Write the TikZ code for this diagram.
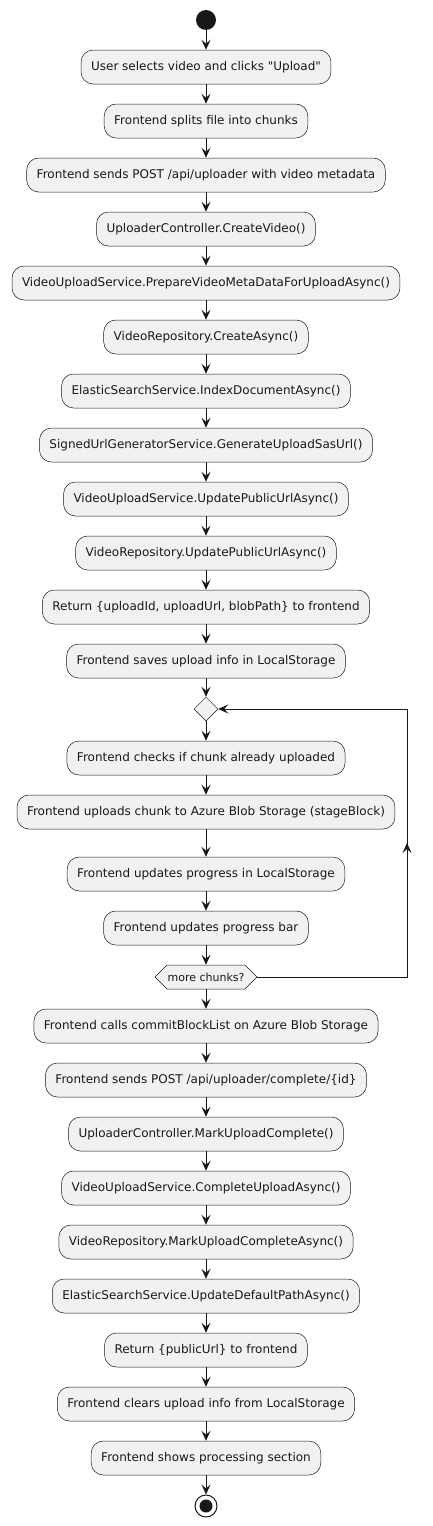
\documentclass[tikz,border=0pt]{standalone}
\usepackage{fontspec}
\setmainfont{DejaVu Sans}[Ligatures=TeXOff]
\usetikzlibrary{arrows.meta,shapes.geometric,calc}
\definecolor{boxfill}{HTML}{F1F1F1}
\definecolor{ink}{HTML}{181818}
\begin{document}
\begin{tikzpicture}[x=1pt,y=-1pt,
  act/.style={draw=ink, line width=0.5pt, fill=boxfill, rounded corners=12pt,
    minimum height=34pt, inner xsep=10pt, inner ysep=0pt,
    font=\fontsize{12pt}{14pt}\selectfont, text=ink},
  flow/.style={draw=ink, line width=1pt, -{Stealth[length=10pt,width=9pt,inset=4pt]}},
  plainline/.style={draw=ink, line width=1pt}]
\useasboundingbox (0,0) rectangle (432,1526);
\node[circle, fill=ink, minimum size=20pt, inner sep=0pt] (s) at (206,20) {};
\node[act] (n1) at (206,67) {User selects video and clicks "Upload"};
\node[act] (n2) at (206,121) {Frontend splits file into chunks};
\node[act] (n3) at (206,175) {Frontend sends POST /api/uploader with video metadata};
\node[act] (n4) at (206,229) {UploaderController.CreateVideo()};
\node[act] (n5) at (206,283) {VideoUploadService.PrepareVideoMetaDataForUploadAsync()};
\node[act] (n6) at (206,337) {VideoRepository.CreateAsync()};
\node[act] (n7) at (206,391) {ElasticSearchService.IndexDocumentAsync()};
\node[act] (n8) at (206,445) {SignedUrlGeneratorService.GenerateUploadSasUrl()};
\node[act] (n9) at (206,499) {VideoUploadService.UpdatePublicUrlAsync()};
\node[act] (n10) at (206,553) {VideoRepository.UpdatePublicUrlAsync()};
\node[act] (n11) at (206,607) {Return \{uploadId, uploadUrl, blobPath\} to frontend};
\node[act] (n12) at (206,661) {Frontend saves upload info in LocalStorage};
\node[diamond, draw=ink, line width=0.5pt, fill=boxfill, minimum width=24pt, minimum height=24pt, inner sep=0pt] (d) at (206,709) {};
\node[act] (n13) at (206,758) {Frontend checks if chunk already uploaded};
\node[act] (n14) at (206,812) {Frontend uploads chunk to Azure Blob Storage (stageBlock)};
\node[act] (n15) at (206,874) {Frontend updates progress in LocalStorage};
\node[act] (n16) at (206,928) {Frontend updates progress bar};
\coordinate (qc) at (206,977);
\filldraw[draw=ink, line width=0.5pt, fill=boxfill]
  ($(qc)+(-51,0)$) -- ($(qc)+(-39,-12)$) -- ($(qc)+(39,-12)$) -- ($(qc)+(51,0)$)
  -- ($(qc)+(39,12)$) -- ($(qc)+(-39,12)$) -- cycle;
\node[minimum width=102pt, minimum height=24pt, inner sep=0pt, font=\fontsize{11pt}{13pt}\selectfont, text=ink] (q) at (qc) {more chunks?};
\node[act] (n17) at (206,1026) {Frontend calls commitBlockList on Azure Blob Storage};
\node[act] (n18) at (206,1080) {Frontend sends POST /api/uploader/complete/\{id\}};
\node[act] (n19) at (206,1134) {UploaderController.MarkUploadComplete()};
\node[act] (n20) at (206,1188) {VideoUploadService.CompleteUploadAsync()};
\node[act] (n21) at (206,1242) {VideoRepository.MarkUploadCompleteAsync()};
\node[act] (n22) at (206,1296) {ElasticSearchService.UpdateDefaultPathAsync()};
\node[act] (n23) at (206,1350) {Return \{publicUrl\} to frontend};
\node[act] (n24) at (206,1404) {Frontend clears upload info from LocalStorage};
\node[act] (n25) at (206,1458) {Frontend shows processing section};
\node[circle, draw=ink, line width=1pt, fill=white, minimum size=22pt, inner sep=0pt] (e) at (206,1506) {};
\node[circle, fill=ink, minimum size=13pt, inner sep=0pt] (ei) at (e.center) {};
\draw[flow] (s) -- (n1);
\foreach \a/\b in {n1/n2,n2/n3,n3/n4,n4/n5,n5/n6,n6/n7,n7/n8,n8/n9,n9/n10,n10/n11,n11/n12,n13/n14,n14/n15,n15/n16,n17/n18,n18/n19,n19/n20,n20/n21,n21/n22,n22/n23,n23/n24,n24/n25}
  \draw[flow] (\a.south) -- (\b.north);
\draw[flow] (n12.south) -- (d.north);
\draw[flow] (d.south) -- (n13.north);
\draw[flow] (n16.south) -- (q.north);
\draw[flow] (q.south) -- (n17.north);
\draw[flow] (n25.south) -- (e.north);
\coordinate (lb) at (407,977);
\coordinate (lm) at (407,843);
\coordinate (lt) at (407,709);
\draw[plainline] (q.east) -- (lb) -- (lt);
\draw[flow] (lt) -- (d.east);
\draw[flow] (lb) -- (lm);
\end{tikzpicture}
\end{document}
